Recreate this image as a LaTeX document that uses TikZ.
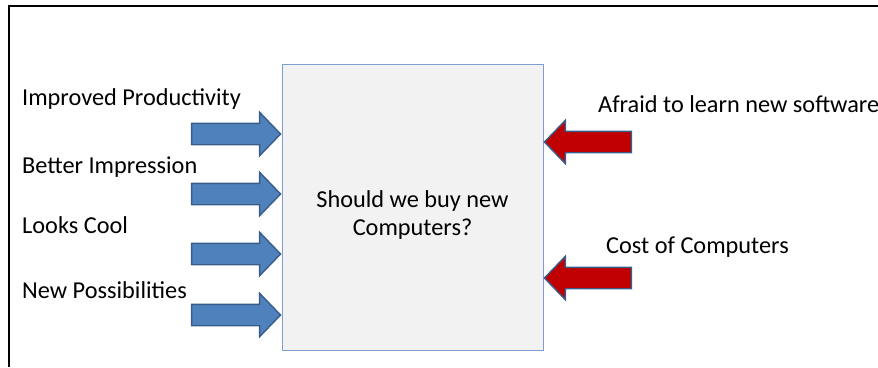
\documentclass[tikz,border=0pt]{standalone}
\usepackage{fontspec}
\setmainfont{Carlito}
\usepackage{xcolor}
\definecolor{problue}{RGB}{79, 129, 189}
\definecolor{edgeblue}{RGB}{56, 93, 138}
\definecolor{conred}{RGB}{192, 0, 0}
\definecolor{boxgray}{RGB}{242, 242, 242}
\definecolor{boxedge}{RGB}{126, 158, 206}
\usetikzlibrary{shapes.arrows, positioning, calc}

\begin{document}
\begin{tikzpicture}[
        x=1pt, y=-1pt,
        labeltext/.style={anchor=base west, inner sep=0pt, font=\fontsize{24.3}{28}\selectfont},
        blockarrow/.style={single arrow, single arrow head extend=11pt, single arrow tip angle=92,
            inner xsep=0pt, inner ysep=10pt, minimum height=89pt, draw=edgeblue, line width=1.4pt},
        proarrow/.style={blockarrow, fill=problue, anchor=tip},
        conarrow/.style={blockarrow, fill=conred, shape border rotate=180, anchor=tip, minimum height=87pt},
        decisionbox/.style={rectangle, draw=boxedge, line width=0.9pt, fill=boxgray, minimum width=261pt, minimum height=286pt, inner sep=0pt}
    ]
        \useasboundingbox (0,0) rectangle (878,367);
        % Frame
        \draw[line width=2.6pt, black] (878,6) -- (9,6) -- (9,367);

        % Decision box
        \node[decisionbox] (box) at (412.5,207) {};
        \node[align=center, inner sep=0pt, font=\fontsize{24.3}{28}\selectfont] (question) at ([yshift=-8pt]box.center) {Should we buy new\\Computers?};

        % Pros
        \node[labeltext] (pro1) at (22,105) {Improved Productivity};
        \node[labeltext] (pro2) at (22,173) {Better Impression};
        \node[labeltext] (pro3) at (22,233) {Looks Cool};
        \node[labeltext] (pro4) at (22,298) {New Possibilities};

        \node[proarrow] (proarr1) at (box.west |- 0,134) {};
        \node[proarrow] (proarr2) at (box.west |- 0,194) {};
        \node[proarrow] (proarr3) at (box.west |- 0,254) {};
        \node[proarrow] (proarr4) at (box.west |- 0,315) {};

        % Cons
        \node[labeltext] (con1) at (598,112) {Afraid to learn new software};
        \node[labeltext] (con2) at (606,253) {Cost of Computers};

        \node[conarrow] (conarr1) at (box.east |- 0,142) {};
        \node[conarrow] (conarr2) at (box.east |- 0,278) {};
    \end{tikzpicture}
\end{document}
